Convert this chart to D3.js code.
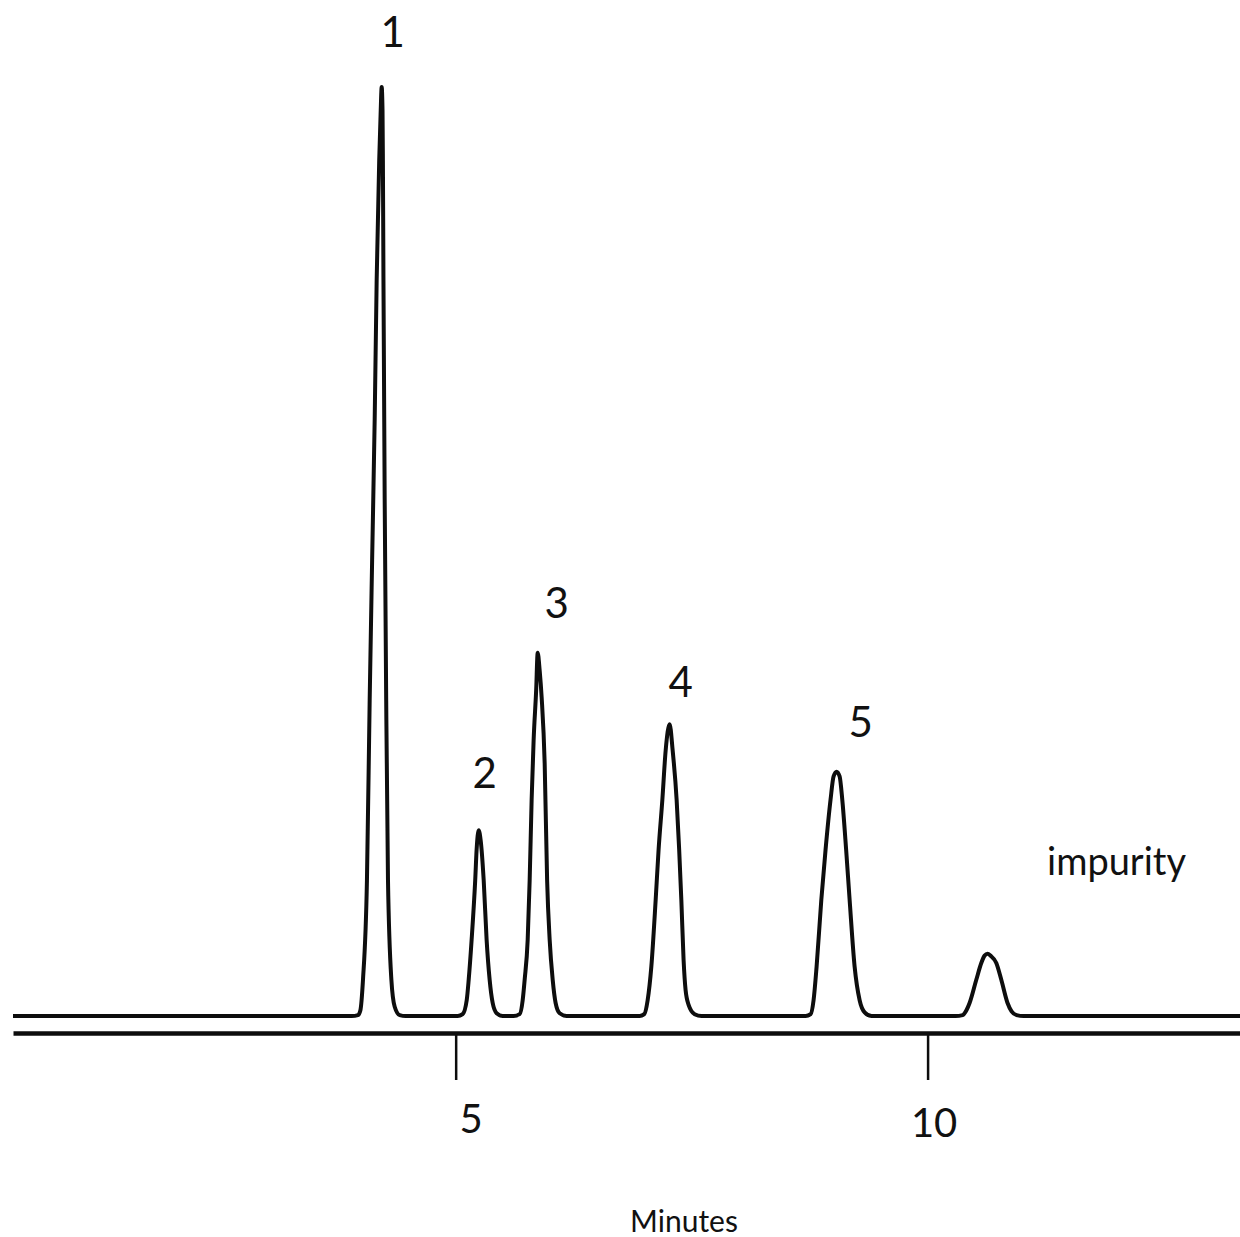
<!DOCTYPE html>
<html>
<head>
<meta charset="utf-8">
<script src="https://cdn.jsdelivr.net/npm/d3@7"></script>
<style>
  html, body { margin: 0; padding: 0; background: #fff; }
  svg { display: block; }
  text { font-family: Lato, "Noto Sans", sans-serif; fill: #111; }
</style>
</head>
<body>
<div id="chart"></div>
<script>
// chromatogram trace (minutes, % of peak 1)
var time = [
  0.31,
  3.898, 3.965, 3.990, 4.018, 4.060, 4.089, 4.115, 4.142, 4.163, 4.190, 4.206, 4.216,
  4.225, 4.229, 4.235, 4.248, 4.264, 4.283, 4.319, 4.354, 4.407, 4.470,
  5.021, 5.074, 5.117, 5.138, 5.169, 5.207, 5.222, 5.244, 5.265, 5.297, 5.328, 5.360, 5.392, 5.434, 5.498,
  5.614, 5.678, 5.710, 5.731, 5.763, 5.784, 5.805, 5.826, 5.853, 5.869, 5.890, 5.911, 5.943, 5.969, 5.996, 6.028, 6.059, 6.102, 6.176,
  6.949, 6.998, 7.034, 7.073, 7.119, 7.150, 7.190, 7.225, 7.267, 7.299, 7.341, 7.368, 7.391, 7.415, 7.436, 7.468, 7.532, 7.606,
  8.708, 8.761, 8.792, 8.824, 8.874, 8.919, 8.972, 9.004, 9.036, 9.068, 9.096, 9.137, 9.174, 9.227, 9.280, 9.333, 9.407,
  10.297, 10.371, 10.413, 10.445, 10.516, 10.569, 10.604, 10.636, 10.667, 10.728, 10.781, 10.847, 10.890, 10.943, 11.017,
  13.31
];
var signal = [
  0,
  0, 0.1, 0.6, 3.9, 14.6, 34.0, 49.1, 64.2, 79.2, 92.1, 97.5, 100,
  97.5, 92.1, 79.2, 55.6, 34.0, 14.6, 3.9, 1.0, 0.1, 0,
  0, 0.2, 1.7, 3.9, 8.2, 14.6, 17.9, 20.0, 18.9, 14.6, 8.2, 3.9, 1.4, 0.3, 0,
  0, 0.2, 1.7, 3.9, 8.2, 14.6, 23.3, 29.7, 35.1, 39.1, 37.2, 34.3, 27.2, 14.6, 8.2, 3.9, 1.4, 0.3, 0,
  0, 0.2, 1.7, 5.3, 12.5, 17.9, 23.3, 28.6, 31.4, 28.6, 23.3, 17.9, 12.5, 6.0, 2.8, 1.2, 0.2, 0,
  0, 0.2, 1.7, 5.3, 12.5, 17.9, 23.3, 25.8, 26.3, 25.8, 23.3, 17.9, 12.5, 5.3, 1.7, 0.4, 0,
  0, 0.1, 0.65, 1.4, 3.9, 5.7, 6.5, 6.7, 6.5, 5.7, 3.9, 1.4, 0.5, 0.1, 0,
  0
];

// peak labels
var labelText = ["1", "2", "3", "4", "5", "impurity"];
var labelTime = [4.333, 5.307, 6.070, 7.383, 9.290, 12.002];
var labelSignal = [104.3, 24.5, 42.8, 34.3, 30.0, 15.2];

var tickValues = [5, 10];
var axisTitle = "Minutes";

var width = 1240, height = 1237;

var svg = d3.select("#chart").append("svg")
  .attr("width", width)
  .attr("height", height);

svg.append("rect").attr("width", width).attr("height", height).attr("fill", "#fff");

var x = d3.scaleLinear().domain([0.31, 13.31]).range([13, 1240]);
var y = d3.scaleLinear().domain([0, 100]).range([1016, 87]);

var points = time.map(function(t, i) { return [t, signal[i]]; });

var line = d3.line()
  .x(function(d) { return x(d[0]); })
  .y(function(d) { return y(d[1]); })
  .curve(d3.curveMonotoneX);

svg.append("path")
  .datum(points)
  .attr("d", line)
  .attr("fill", "none")
  .attr("stroke", "#0d0d0d")
  .attr("stroke-width", 4)
  .attr("stroke-linejoin", "round");

// time axis, drawn a little under the baseline
var axis = d3.axisBottom(x)
  .tickValues(tickValues)
  .tickSize(47)
  .tickSizeOuter(0)
  .tickFormat(d3.format("d"));

var gAxis = svg.append("g")
  .attr("transform", "translate(0,1033)")
  .call(axis);

gAxis.select(".domain").attr("stroke", "#0d0d0d").attr("stroke-width", 4.5);
gAxis.selectAll(".tick line").attr("stroke", "#0d0d0d").attr("stroke-width", 2.5);
gAxis.selectAll(".tick text")
  .attr("font-size", 40)
  .attr("fill", "#111")
  .attr("y", 0)
  .attr("dy", 0)
  .attr("x", function(d) { return d < 10 ? 15 : 6; })
  .attr("transform", function(d) { return d < 10 ? "translate(0,100)" : "translate(0,104)"; });

svg.append("text")
  .attr("x", 684)
  .attr("y", 1232)
  .attr("text-anchor", "middle")
  .attr("font-size", 30)
  .text(axisTitle);

svg.selectAll(".peak-label")
  .data(labelText)
  .enter()
  .append("text")
  .attr("class", "peak-label")
  .attr("x", function(d, i) { return x(labelTime[i]); })
  .attr("y", function(d, i) { return y(labelSignal[i]); })
  .attr("text-anchor", "middle")
  .attr("font-size", function(d) { return d.length > 1 ? 38 : 42; })
  .text(function(d) { return d; });
</script>
</body>
</html>
